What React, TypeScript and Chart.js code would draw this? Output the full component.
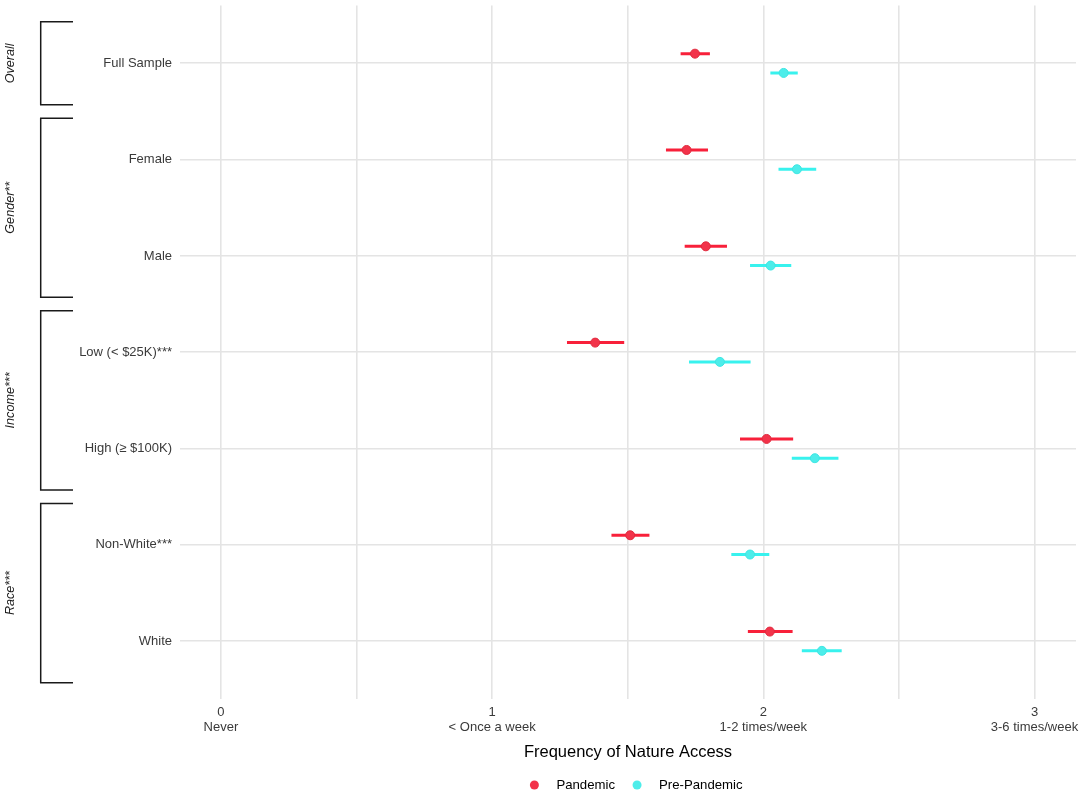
import React, { useEffect, useRef } from 'react';
import { Chart, registerables } from 'chart.js';

Chart.register(...registerables);

const categories = ['Full Sample', 'Female', 'Male', 'Low (< $25K)***', 'High (≥ $100K)', 'Non-White***', 'White'];
const groupNames = ['Overall', 'Gender**', 'Income***', 'Race***'];
const groupStart = [0, 1, 3, 5];
const groupEnd = [0, 2, 4, 6];
const xTickValues = [0, 1, 2, 3];
const xTickLabels = ['Never', '< Once a week', '1-2 times/week', '3-6 times/week'];
const seriesNames = ['Pandemic', 'Pre-Pandemic'];
const pandemicMean = [1.748, 1.717, 1.788, 1.380, 2.012, 1.509, 2.024];
const pandemicLow = [1.695, 1.641, 1.710, 1.276, 1.914, 1.440, 1.943];
const pandemicHigh = [1.803, 1.796, 1.866, 1.487, 2.110, 1.580, 2.108];
const prePandemicMean = [2.075, 2.124, 2.027, 1.840, 2.190, 1.951, 2.216];
const prePandemicLow = [2.026, 2.056, 1.951, 1.726, 2.105, 1.882, 2.142];
const prePandemicHigh = [2.127, 2.195, 2.103, 1.953, 2.277, 2.022, 2.289];

const FONT = '"Liberation Sans", Arial, sans-serif';
const DODGE = 0.1;

const errorBarPlugin = {
  id: 'errorBars',
  beforeDatasetsDraw(chart: any) {
    const { ctx, chartArea, scales } = chart;
    const x = scales.x;
    const y = scales.y;
    ctx.save();
    ctx.beginPath();
    ctx.rect(chartArea.left, chartArea.top, chartArea.right - chartArea.left, chartArea.bottom - chartArea.top);
    ctx.clip();
    chart.data.datasets.forEach((ds: any) => {
      ctx.strokeStyle = ds.errColor;
      ctx.lineWidth = 3;
      ctx.lineCap = 'butt';
      ds.data.forEach((p: any, i: number) => {
        const yy = y.getPixelForValue(p.y);
        ctx.beginPath();
        ctx.moveTo(x.getPixelForValue(ds.lo[i]), yy);
        ctx.lineTo(x.getPixelForValue(ds.hi[i]), yy);
        ctx.stroke();
      });
    });
    ctx.restore();
  },
};

const decorPlugin = {
  id: 'decor',
  afterDraw(chart: any) {
    const { ctx, chartArea, scales } = chart;
    const y = scales.y;
    ctx.save();
    // group brackets
    const bx = chartArea.left - 139.3;
    const bx2 = chartArea.left - 107;
    groupNames.forEach((g, k) => {
      const y0 = y.getPixelForValue(groupStart[k] - 0.43);
      const y1 = y.getPixelForValue(groupEnd[k] + 0.43);
      ctx.strokeStyle = '#1a1a1a';
      ctx.lineWidth = 1.5;
      ctx.beginPath();
      ctx.moveTo(bx2, y0);
      ctx.lineTo(bx, y0);
      ctx.lineTo(bx, y1);
      ctx.lineTo(bx2, y1);
      ctx.stroke();
      ctx.save();
      ctx.translate(chartArea.left - 170, (y0 + y1) / 2);
      ctx.rotate(-Math.PI / 2);
      ctx.font = `italic 12.6px ${FONT}`;
      ctx.textAlign = 'center';
      ctx.textBaseline = 'middle';
      ctx.fillStyle = '#1a1a1a';
      ctx.fillText(g, 0, 0);
      ctx.restore();
    });
    // legend
    ctx.font = `13.2px ${FONT}`;
    ctx.textBaseline = 'middle';
    ctx.textAlign = 'left';
    const ly = 785;
    const items = chart.data.datasets.map((ds: any) => ({
      label: ds.label,
      color: ds.backgroundColor,
      w: ctx.measureText(ds.label).width,
    }));
    const dotToText = 22;
    const itemGap = 22;
    let total = 0;
    items.forEach((it: any, i: number) => {
      total += 4.5 + dotToText + it.w + (i < items.length - 1 ? itemGap : 0);
    });
    const cx = (chartArea.left + chartArea.right) / 2 + 10.5;
    let xx = cx - total / 2;
    items.forEach((it: any) => {
      const dotX = xx + 4.5;
      ctx.fillStyle = it.color;
      ctx.beginPath();
      ctx.arc(dotX, ly, 4.5, 0, Math.PI * 2);
      ctx.fill();
      ctx.fillStyle = '#000000';
      ctx.fillText(it.label, dotX + dotToText, ly);
      xx = dotX + dotToText + it.w + itemGap - 4.5;
    });
    ctx.restore();
  },
};

export default function App() {
  const canvasRef = useRef<HTMLCanvasElement | null>(null);

  useEffect(() => {
    if (!canvasRef.current) return;
    const chart = new Chart(canvasRef.current, {
      type: 'scatter',
      data: {
        datasets: [
          {
            label: seriesNames[0],
            data: pandemicMean.map((v, i) => ({ x: v, y: i - DODGE })),
            lo: pandemicLow,
            hi: pandemicHigh,
            errColor: '#F8203A',
            backgroundColor: '#F2334A',
            borderColor: '#E02A3E',
            borderWidth: 1,
            pointRadius: 4.5,
            pointHoverRadius: 4.5,
          } as any,
          {
            label: seriesNames[1],
            data: prePandemicMean.map((v, i) => ({ x: v, y: i + DODGE })),
            lo: prePandemicLow,
            hi: prePandemicHigh,
            errColor: '#38F2EE',
            backgroundColor: '#4DEDEA',
            borderColor: '#3DE6E3',
            borderWidth: 1,
            pointRadius: 4.5,
            pointHoverRadius: 4.5,
          } as any,
        ],
      },
      options: {
        animation: false,
        responsive: true,
        maintainAspectRatio: false,
        layout: { padding: { top: 5, right: 8, left: 0, bottom: 0 } },
        plugins: {
          legend: { display: false },
          tooltip: { enabled: false },
        },
        scales: {
          x: {
            type: 'linear',
            min: -0.151,
            max: 3.153,
            afterBuildTicks: (scale: any) => {
              const t: any[] = [];
              for (let v = 0; v <= 3; v += 0.5) t.push({ value: v });
              scale.ticks = t;
            },
            afterFit: (scale: any) => {
              scale.height = 98;
              scale.paddingLeft = 0;
              scale.paddingRight = 0;
            },
            grid: { color: '#e4e4e4', lineWidth: 1.6, drawTicks: false },
            border: { display: false },
            ticks: {
              padding: 6,
              color: '#3a3a3a',
              font: { family: FONT, size: 13, lineHeight: 1.17 },
              maxRotation: 0,
              autoSkip: false,
              callback: (value: any) => {
                const idx = xTickValues.indexOf(Number(value));
                return idx >= 0 ? [String(xTickValues[idx]), xTickLabels[idx]] : '';
              },
            },
            title: {
              display: true,
              text: 'Frequency of Nature Access',
              color: '#000000',
              font: { family: FONT, size: 16.5 },
              padding: { top: 4, bottom: 35 },
            },
          },
          y: {
            type: 'linear',
            reverse: true,
            min: -0.6,
            max: 6.6,
            afterBuildTicks: (scale: any) => {
              scale.ticks = categories.map((_, i) => ({ value: i }));
            },
            afterFit: (scale: any) => {
              scale.width = 180;
              scale.paddingTop = 0;
              scale.paddingBottom = 0;
            },
            grid: { color: '#e4e4e4', lineWidth: 1.6, drawTicks: false },
            border: { display: false },
            ticks: {
              padding: 8,
              color: '#3a3a3a',
              font: { family: FONT, size: 13 },
              autoSkip: false,
              callback: (value: any) => categories[Number(value)] ?? '',
            },
          },
        },
      } as any,
      plugins: [errorBarPlugin, decorPlugin],
    });
    return () => chart.destroy();
  }, []);

  return (
    <div style={{ position: 'fixed', left: 0, top: 0, width: 1084, height: 797, background: '#ffffff' }}>
      <canvas ref={canvasRef} />
    </div>
  );
}
